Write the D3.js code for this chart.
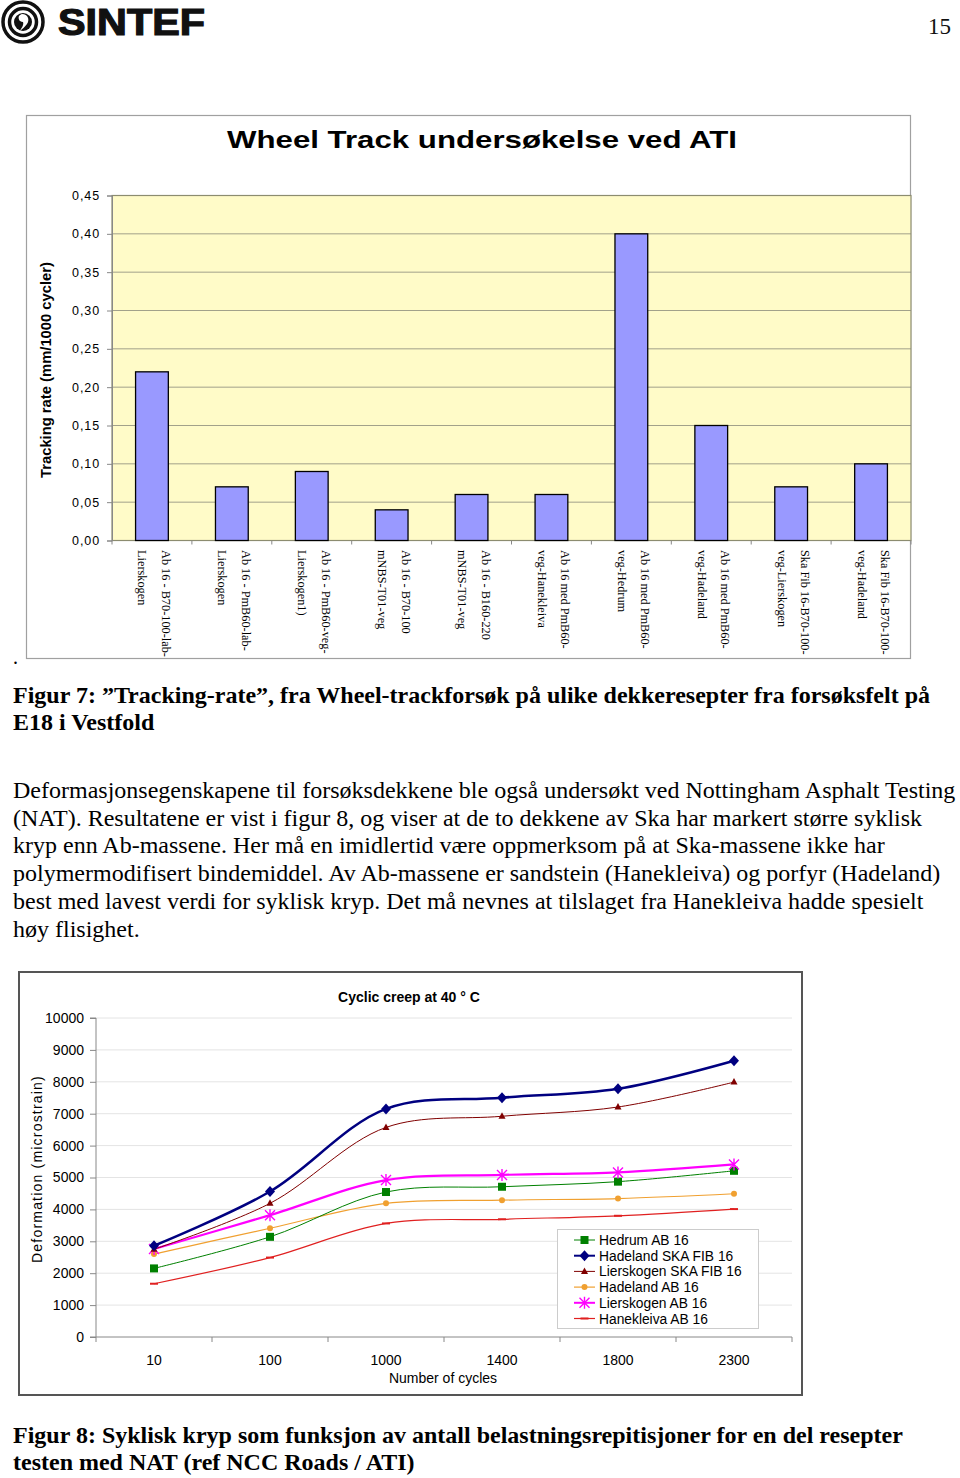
<!DOCTYPE html>
<html><head><meta charset="utf-8">
<script src="https://cdn.jsdelivr.net/npm/d3@7"></script>
<style>
html,body{margin:0;padding:0;background:#fff;}
svg{display:block;}
</style></head>
<body>
<svg id="page" width="960" height="1478"></svg>
<script>
// ---------- DATA ----------
const barCategories = [
  ["Ab 16 - B70-100-lab-", "Lierskogen"],
  ["Ab 16 - PmB60-lab-", "Lierskogen"],
  ["Ab 16 - PmB60-veg-", "Lierskogen1)"],
  ["Ab 16 - B70-100", "mNBS-T01-veg"],
  ["Ab 16 - B160-220", "mNBS-T01-veg"],
  ["Ab 16 med PmB60-", "veg-Hanekleiva"],
  ["Ab 16 med PmB60-", "veg-Hedrum"],
  ["Ab 16 med PmB60-", "veg-Hadeland"],
  ["Ska Fib 16-B70-100-", "veg-Lierskogen"],
  ["Ska Fib 16-B70-100-", "veg-Hadeland"]
];
const barValues = [0.22, 0.07, 0.09, 0.04, 0.06, 0.06, 0.40, 0.15, 0.07, 0.10];
const barTicks = [0, 0.05, 0.10, 0.15, 0.20, 0.25, 0.30, 0.35, 0.40, 0.45];

const cycles = ["10", "100", "1000", "1400", "1800", "2300"];
const seriesNames = ["Hedrum AB 16", "Hadeland SKA FIB 16", "Lierskogen SKA FIB 16", "Hadeland AB 16", "Lierskogen AB 16", "Hanekleiva AB 16"];
const hedrum        = [2150, 3140, 4545, 4710, 4870, 5210];
const hadelandSka   = [2860, 4560, 7150, 7500, 7780, 8660];
const lierskogenSka = [2750, 4190, 6570, 6920, 7210, 7990];
const hadelandAb    = [2600, 3410, 4190, 4290, 4340, 4490];
const lierskogenAb  = [2760, 3820, 4920, 5080, 5160, 5410];
const hanekleiva    = [1670, 2490, 3560, 3690, 3800, 4010];
const lineTicks = [0, 1000, 2000, 3000, 4000, 5000, 6000, 7000, 8000, 9000, 10000];

// ---------- PAGE ----------
const svg = d3.select("#page");
svg.append("rect").attr("width", 960).attr("height", 1478).attr("fill", "#fff");

// Header logo
const logo = svg.append("g");
logo.append("circle").attr("cx", 23).attr("cy", 22).attr("r", 20).attr("fill", "none").attr("stroke", "#111").attr("stroke-width", 3.5);
logo.append("circle").attr("cx", 23).attr("cy", 22).attr("r", 13.5).attr("fill", "none").attr("stroke", "#111").attr("stroke-width", 3.5);
logo.append("circle").attr("cx", 23).attr("cy", 22).attr("r", 9).attr("fill", "#111");
logo.append("path").attr("d", "M22,14 C28,14 30,20 27,24 C25,27 22,29 20,31 C22,27 24,25 23,22 C19,22 18,18 19,16 C20,15 21,14 22,14 Z").attr("fill", "#fff");
svg.append("text").attr("x", 58).attr("y", 35).attr("font-family", "Liberation Sans, Arial, sans-serif")
  .attr("font-weight", "bold").attr("font-size", 36).attr("textLength", 147).attr("lengthAdjust", "spacingAndGlyphs")
  .attr("stroke", "#111").attr("stroke-width", 1.2).attr("fill", "#111").text("SINTEF");
svg.append("text").attr("x", 951).attr("y", 34).attr("text-anchor", "end").attr("font-family", "Liberation Serif, Times New Roman, serif")
  .attr("font-size", 23).attr("fill", "#111").text("15");

// ---------- BAR CHART ----------
const bc = svg.append("g");
bc.append("rect").attr("x", 26.5).attr("y", 115.5).attr("width", 884).attr("height", 543).attr("fill", "#fff").attr("stroke", "#a0a0a0").attr("stroke-width", 1.2);
bc.append("text").attr("x", 482).attr("y", 148).attr("text-anchor", "middle").attr("font-family", "Liberation Sans, Arial, sans-serif")
  .attr("font-weight", "bold").attr("font-size", 24.5).attr("textLength", 510).attr("lengthAdjust", "spacingAndGlyphs").attr("fill", "#000")
  .text("Wheel Track undersøkelse ved ATI");

const bx = d3.scaleBand().domain(d3.range(barValues.length)).range([112, 911]).paddingInner(0.59).paddingOuter(0.295);
const by = d3.scaleLinear().domain([0, 0.45]).range([540.5, 195.5]);

bc.append("rect").attr("x", 112).attr("y", by(0.45)).attr("width", 799).attr("height", by(0) - by(0.45))
  .attr("fill", "#FFFBC8").attr("stroke", "#8c8c70").attr("stroke-width", 1.2);

bc.append("g").selectAll("line").data(barTicks.slice(1, -1)).join("line")
  .attr("x1", 112).attr("x2", 911).attr("y1", d => by(d)).attr("y2", d => by(d))
  .attr("stroke", "#8a8a7a").attr("stroke-width", 0.8);

const yAxisBar = d3.axisLeft(by).tickValues(barTicks).tickSize(5).tickPadding(7)
  .tickFormat(d => d3.format(".2f")(d).replace(".", ","));
const gya = bc.append("g").attr("transform", "translate(112,0)").call(yAxisBar);
gya.select(".domain").attr("stroke", "#888");
gya.selectAll(".tick line").attr("stroke", "#888");
gya.selectAll("text").attr("font-family", "Liberation Sans, Arial, sans-serif").attr("font-size", 12.5)
  .attr("letter-spacing", 0.9).attr("fill", "#000");

// x axis tick marks between categories
bc.append("g").selectAll("line").data(d3.range(barValues.length + 1)).join("line")
  .attr("x1", i => 112 + i * bx.step()).attr("x2", i => 112 + i * bx.step())
  .attr("y1", by(0)).attr("y2", by(0) + 4).attr("stroke", "#888");

bc.append("g").selectAll("rect").data(barValues).join("rect")
  .attr("x", (d, i) => bx(i)).attr("width", bx.bandwidth())
  .attr("y", d => by(d)).attr("height", d => by(0) - by(d))
  .attr("fill", "#9999FF").attr("stroke", "#000").attr("stroke-width", 1.3);

// category labels rotated
const lab = bc.append("g").selectAll("g").data(barCategories).join("g")
  .attr("transform", (d, i) => `translate(${bx(i) + bx.bandwidth() / 2},550) rotate(90)`);
lab.each(function (d) {
  const g = d3.select(this);
  g.append("text").attr("x", 0).attr("y", -10).attr("font-family", "Liberation Serif, Times New Roman, serif")
    .attr("font-size", 12.3).attr("fill", "#000").text(d[0]);
  g.append("text").attr("x", 0).attr("y", 13.5).attr("font-family", "Liberation Serif, Times New Roman, serif")
    .attr("font-size", 12.3).attr("fill", "#000").text(d[1]);
});

bc.append("text").attr("transform", "translate(51,370) rotate(-90)").attr("text-anchor", "middle")
  .attr("font-family", "Liberation Sans, Arial, sans-serif").attr("font-weight", "bold").attr("font-size", 15)
  .attr("textLength", 216).attr("lengthAdjust", "spacingAndGlyphs").attr("fill", "#000")
  .text("Tracking rate (mm/1000 cycler)");

svg.append("text").attr("x", 13).attr("y", 664).attr("font-family", "Liberation Serif, serif").attr("font-size", 20).text(".");

// ---------- TEXT ----------
const serif = "Liberation Serif, Times New Roman, serif";
const cap7 = ["Figur 7: ”Tracking-rate”, fra Wheel-trackforsøk på ulike dekkeresepter fra forsøksfelt på", "E18 i Vestfold"];
svg.append("g").selectAll("text").data(cap7).join("text")
  .attr("x", 13).attr("y", (d, i) => 703 + i * 27).attr("font-family", serif).attr("font-weight", "bold").attr("font-size", 24).attr("fill", "#000").text(d => d);

const para = [
  "Deformasjonsegenskapene til forsøksdekkene ble også undersøkt ved Nottingham Asphalt Testing",
  "(NAT). Resultatene er vist i figur 8, og viser at de to dekkene av Ska har markert større syklisk",
  "kryp enn Ab-massene. Her må en imidlertid være oppmerksom på at Ska-massene ikke har",
  "polymermodifisert bindemiddel. Av Ab-massene er sandstein (Hanekleiva) og porfyr (Hadeland)",
  "best med lavest verdi for syklisk kryp. Det må nevnes at tilslaget fra Hanekleiva hadde spesielt",
  "høy flisighet."
];
svg.append("g").selectAll("text").data(para).join("text")
  .attr("x", 13).attr("y", (d, i) => 798 + i * 27.7).attr("font-family", serif).attr("font-size", 24).attr("fill", "#000").text(d => d);

const cap8 = ["Figur 8: Syklisk kryp som funksjon av antall belastningsrepitisjoner for en del resepter", "testen med NAT (ref NCC Roads / ATI)"];
svg.append("g").selectAll("text").data(cap8).join("text")
  .attr("x", 13).attr("y", (d, i) => 1443 + i * 27).attr("font-family", serif).attr("font-weight", "bold").attr("font-size", 24).attr("fill", "#000").text(d => d);

// ---------- LINE CHART ----------
const lc = svg.append("g");
const sans = "Liberation Sans, Arial, sans-serif";
lc.append("rect").attr("x", 19).attr("y", 972).attr("width", 783).attr("height", 423).attr("fill", "#fff").attr("stroke", "#555").attr("stroke-width", 2);
lc.append("text").attr("x", 409).attr("y", 1002).attr("text-anchor", "middle").attr("font-family", sans).attr("font-weight", "bold")
  .attr("font-size", 14).attr("fill", "#000").text("Cyclic creep at 40 ° C");

const lx = d3.scaleBand().domain(cycles).range([96, 792]);
const ly = d3.scaleLinear().domain([0, 10000]).range([1337, 1018]);
const cx = d => lx(d) + lx.bandwidth() / 2;

lc.append("g").selectAll("line").data(lineTicks.slice(1)).join("line")
  .attr("x1", 96).attr("x2", 792).attr("y1", d => ly(d)).attr("y2", d => ly(d))
  .attr("stroke", "#e4e4e4").attr("stroke-width", 1);

const yAxisLine = d3.axisLeft(ly).tickValues(lineTicks).tickSize(6).tickPadding(6).tickFormat(d3.format("d"));
const gyl = lc.append("g").attr("transform", "translate(96,0)").call(yAxisLine);
gyl.select(".domain").attr("stroke", "#888").attr("d", "M-6,1018H0V1337H-6");
gyl.selectAll(".tick line").attr("stroke", "#888");
gyl.selectAll("text").attr("font-family", sans).attr("font-size", 14).attr("fill", "#000");

const xAxisLine = d3.axisBottom(lx).tickSize(0).tickPadding(18);
const gxl = lc.append("g").attr("transform", "translate(0,1337)").call(xAxisLine);
gxl.select(".domain").attr("stroke", "#888").attr("d", "M96,0H792");
gxl.selectAll("text").attr("font-family", sans).attr("font-size", 14).attr("fill", "#000");
lc.append("g").selectAll("line").data(d3.range(cycles.length + 1)).join("line")
  .attr("x1", i => 96 + i * lx.step()).attr("x2", i => 96 + i * lx.step())
  .attr("y1", 1337).attr("y2", 1342).attr("stroke", "#888");

lc.append("text").attr("x", 443).attr("y", 1383).attr("text-anchor", "middle").attr("font-family", sans).attr("font-size", 14).attr("fill", "#000").text("Number of cycles");
lc.append("text").attr("transform", "translate(42,1169) rotate(-90)").attr("text-anchor", "middle").attr("font-family", sans)
  .attr("font-size", 14).attr("letter-spacing", 1.2).attr("fill", "#000").text("Deformation (microstrain)");

const series = [
  { name: seriesNames[0], values: hedrum, color: "#008000", width: 1, marker: "square" },
  { name: seriesNames[1], values: hadelandSka, color: "#000080", width: 2.5, marker: "diamond" },
  { name: seriesNames[2], values: lierskogenSka, color: "#800000", width: 1, marker: "triangle" },
  { name: seriesNames[3], values: hadelandAb, color: "#F0A030", width: 1.2, marker: "circle" },
  { name: seriesNames[4], values: lierskogenAb, color: "#FF00FF", width: 2.2, marker: "star" },
  { name: seriesNames[5], values: hanekleiva, color: "#E02020", width: 1.2, marker: "dash" }
];
const drawOrder = [5, 3, 0, 4, 2, 1];
const lineGen = d3.line().x((d, i) => cx(cycles[i])).y(d => ly(d)).curve(d3.curveCatmullRom.alpha(0.5));

function marker(g, type, color, x, y) {
  if (type === "square") g.append("rect").attr("x", x - 4).attr("y", y - 4).attr("width", 8).attr("height", 8).attr("fill", color);
  else if (type === "diamond") g.append("path").attr("d", `M${x},${y - 5.5}L${x + 5},${y}L${x},${y + 5.5}L${x - 5},${y}Z`).attr("fill", color);
  else if (type === "triangle") g.append("path").attr("d", `M${x},${y - 4}L${x + 3.5},${y + 2.5}L${x - 3.5},${y + 2.5}Z`).attr("fill", color);
  else if (type === "circle") g.append("circle").attr("cx", x).attr("cy", y).attr("r", 3).attr("fill", color);
  else if (type === "star") {
    g.append("path").attr("d", `M${x - 5},${y - 5}L${x + 5},${y + 5}M${x - 5},${y + 5}L${x + 5},${y - 5}M${x},${y - 6}L${x},${y + 6}`)
      .attr("stroke", color).attr("stroke-width", 1.4).attr("fill", "none");
  } else if (type === "dash") g.append("path").attr("d", `M${x - 4},${y}L${x + 4},${y}`).attr("stroke", color).attr("stroke-width", 2);
}

drawOrder.forEach(k => {
  const s = series[k];
  lc.append("path").datum(s.values).attr("d", lineGen).attr("fill", "none").attr("stroke", s.color).attr("stroke-width", s.width);
  const mg = lc.append("g");
  s.values.forEach((v, i) => marker(mg, s.marker, s.color, cx(cycles[i]), ly(v)));
});

// legend
const lg = lc.append("g");
lg.append("rect").attr("x", 557.5).attr("y", 1229.5).attr("width", 201).attr("height", 99).attr("fill", "#fff").attr("stroke", "#ccc");
series.forEach((s, i) => {
  const y = 1240 + i * 15.7;
  lg.append("line").attr("x1", 574).attr("x2", 595).attr("y1", y).attr("y2", y).attr("stroke", s.color).attr("stroke-width", Math.min(s.width, 2));
  marker(lg, s.marker, s.color, 584.5, y);
  lg.append("text").attr("x", 599).attr("y", y + 5).attr("font-family", sans).attr("font-size", 13.8).attr("fill", "#000").text(s.name);
});
</script>
</body></html>
